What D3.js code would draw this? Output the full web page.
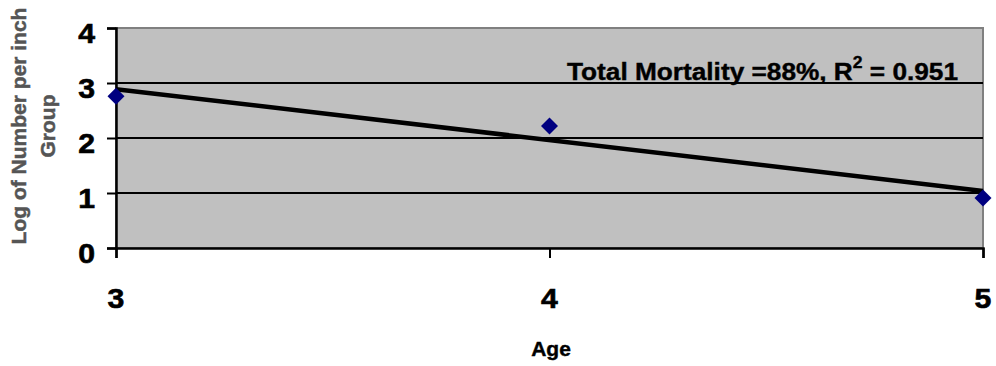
<!DOCTYPE html>
<html><head><meta charset="utf-8">
<script src="https://cdn.jsdelivr.net/npm/d3@7"></script>
<style>html,body{margin:0;padding:0;background:#fff;}svg{display:block;}</style>
</head><body>
<svg id="c" width="996" height="366"></svg>
<script>
const ages = [3, 4, 5];
const logCounts = [2.76, 2.22, 0.91];
const yTicks = [0, 1, 2, 3, 4];
const xTicks = [3, 4, 5];
const trendLabel = "Total Mortality =88%, R";
const trendLabel2 = " = 0.951";
const xTitle = "Age";
const yTitle = ["Log of Number per inch", "Group"];

const svg = d3.select("#c");
const font = "'Liberation Sans', Arial, sans-serif";
const x = d3.scaleLinear().domain([3, 5]).range([116, 983]);
const y = d3.scaleLinear().domain([0, 4]).range([248, 28]);

// plot area
svg.append("rect").attr("x", x(3)).attr("y", y(4)).attr("width", x(5) - x(3)).attr("height", y(0) - y(4))
  .attr("fill", "#c0c0c0").attr("stroke", "#808080").attr("stroke-width", 2);

// gridlines
svg.append("g").selectAll("line").data(yTicks.filter(d => d > 0 && d < 4)).join("line")
  .attr("x1", x(3)).attr("x2", x(5)).attr("y1", d => y(d)).attr("y2", d => y(d))
  .attr("stroke", "#000").attr("stroke-width", 2);

// y axis
const yAxis = svg.append("g").attr("transform", `translate(${x(3)},0)`)
  .call(d3.axisLeft(y).tickValues(yTicks).tickSize(9).tickFormat(""));
yAxis.select(".domain").attr("stroke", "#000").attr("stroke-width", 2.5);
yAxis.selectAll(".tick line").attr("stroke", "#000").attr("stroke-width", 2);

// x axis
const xAxis = svg.append("g").attr("transform", `translate(0,${y(0)})`)
  .call(d3.axisBottom(x).tickValues(xTicks).tickSize(10).tickFormat(""));
xAxis.select(".domain").attr("stroke", "#000").attr("stroke-width", 2.5);
xAxis.selectAll(".tick line").attr("stroke", "#000").attr("stroke-width", 2);

// y tick labels
svg.append("g").selectAll("text").data(yTicks).join("text")
  .attr("transform", d => `translate(95,${y(d) + 14.5}) scale(1.12,1)`)
  .attr("text-anchor", "end").attr("font-family", font).attr("font-weight", "bold")
  .attr("font-size", 27).attr("fill", "#000").attr("stroke", "#000").attr("stroke-width", 0.6)
  .text(d => d);

// x tick labels
svg.append("g").selectAll("text").data(xTicks).join("text")
  .attr("transform", d => `translate(${x(d)},308) scale(1.12,1)`)
  .attr("text-anchor", "middle").attr("font-family", font).attr("font-weight", "bold")
  .attr("font-size", 27).attr("fill", "#000").attr("stroke", "#000").attr("stroke-width", 0.6)
  .text(d => d);

// x title
svg.append("text").attr("transform", `translate(551,356) scale(1.05,1)`)
  .attr("text-anchor", "middle").attr("font-family", font).attr("font-weight", "bold")
  .attr("font-size", 20).attr("fill", "#000").attr("stroke", "#000").attr("stroke-width", 0.4)
  .text(xTitle);

// y title
const yt = svg.append("g").attr("transform", "translate(0,126)");
yt.append("text").attr("transform", "translate(26,0) rotate(-90)")
  .attr("text-anchor", "middle").attr("font-family", font).attr("font-weight", "bold")
  .attr("font-size", 21).attr("fill", "#555").attr("stroke", "#555").attr("stroke-width", 0.5)
  .text(yTitle[0]);
yt.append("text").attr("transform", "translate(55,0) rotate(-90)")
  .attr("text-anchor", "middle").attr("font-family", font).attr("font-weight", "bold")
  .attr("font-size", 21).attr("fill", "#555").attr("stroke", "#555").attr("stroke-width", 0.5)
  .text(yTitle[1]);

// linear trendline from data
const mx = d3.mean(ages), my = d3.mean(logCounts);
const slope = d3.sum(ages.map((a, i) => (a - mx) * (logCounts[i] - my))) / d3.sum(ages.map(a => (a - mx) ** 2));
const intercept = my - slope * mx;
const ext = d3.extent(ages);
svg.append("line")
  .attr("x1", x(ext[0])).attr("y1", y(intercept + slope * ext[0]))
  .attr("x2", x(ext[1])).attr("y2", y(intercept + slope * ext[1]))
  .attr("stroke", "#000").attr("stroke-width", 4.5);

// markers
svg.append("g").selectAll("path").data(ages).join("path")
  .attr("d", d3.symbol(d3.symbolSquare, 144))
  .attr("transform", (d, i) => `translate(${x(d)},${y(logCounts[i])}) rotate(45)`)
  .attr("fill", "#000080");

// trend label
const tl = svg.append("text").attr("x", 958).attr("y", 80).attr("text-anchor", "end")
  .attr("font-family", font).attr("font-weight", "bold").attr("font-size", 24).attr("fill", "#000")
  .attr("stroke", "#000").attr("stroke-width", 0.4)
  .attr("textLength", 391).attr("lengthAdjust", "spacingAndGlyphs");
tl.append("tspan").text(trendLabel);
tl.append("tspan").attr("dy", -12).attr("font-size", 16).text("2");
tl.append("tspan").attr("dy", 12).text(trendLabel2);
</script>
</body></html>
